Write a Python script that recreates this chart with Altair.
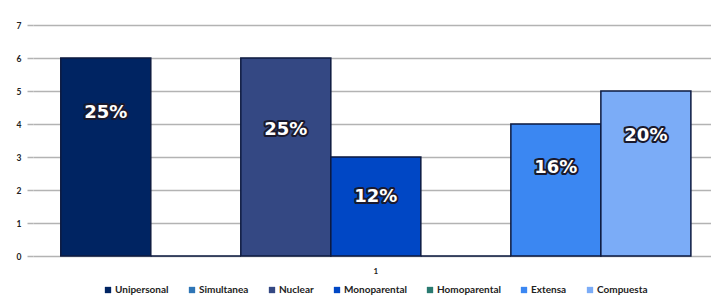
import altair as alt
import pandas as pd

series = ["Unipersonal", "Simultanea", "Nuclear", "Monoparental", "Homoparental", "Extensa", "Compuesta"]
values = [6, 0, 6, 3, 0, 4, 5]
labels = ["25%", "", "25%", "12%", "", "16%", "20%"]
label_pos = [4.33, 0, 3.82, 1.79, 0, 2.67, 3.64]
group = ["1"] * 7
y_ticks = [0, 1, 2, 3, 4, 5, 6, 7]
colors = ["#002462", "#2e75b6", "#344883", "#0047c5", "#2a7a70", "#3b87f2", "#7bacf7"]

df = pd.DataFrame({"serie": series, "grupo": group, "valor": values,
                   "label": labels, "label_pos": label_pos})

xscale = alt.Scale(paddingInner=0, paddingOuter=0.038, align=0.58)
xaxis = alt.Axis(title=None, labelAngle=0, ticks=False, domain=False,
                 labelPadding=11, labelFontSize=8, labelFontWeight="bold",
                 labelColor="#222", labelFont="Lato")
yscale = alt.Scale(domain=[0, 7], nice=False)
yaxis = alt.Axis(title=None, values=y_ticks, domain=False,
                 tickColor="#b3b3b3", tickSize=6, tickWidth=1.5,
                 gridColor="#b3b3b3", gridWidth=1.5,
                 labelFontSize=8.5, labelFontWeight="bold", labelColor="#222",
                 labelFont="Lato", labelPadding=6)
xoff = alt.XOffset("serie:N", sort=series,
                   scale=alt.Scale(domain=series, paddingInner=0, paddingOuter=0))

base = alt.Chart(df)

bars = base.mark_bar(stroke="#0d1a40", strokeWidth=1.5).encode(
    x=alt.X("grupo:N", scale=xscale, axis=xaxis),
    xOffset=xoff,
    y=alt.Y("valor:Q", scale=yscale, axis=yaxis),
    color=alt.Color("serie:N", sort=series,
                    scale=alt.Scale(domain=series, range=colors),
                    legend=alt.Legend(title=None, orient="none", direction="horizontal",
                                      legendX=70, legendY=260, symbolType="square",
                                      symbolSize=40, symbolStrokeWidth=0,
                                      labelFontSize=10, labelFontWeight="bold",
                                      labelFont="Lato", labelColor="#222",
                                      columnPadding=18, labelOffset=2)),
)

txt_base = base.transform_filter("datum.label != ''")
tx = alt.X("grupo:N", scale=xscale, axis=xaxis)
ty = alt.Y("label_pos:Q", scale=yscale, axis=yaxis)
outline = txt_base.mark_text(font="DejaVu Sans", fontWeight="bold", fontSize=18,
                             color="#1a1a2e", stroke="#1a1a2e", strokeWidth=4,
                             strokeJoin="round").encode(
    x=tx, xOffset=xoff, y=ty, text="label:N")
white = txt_base.mark_text(font="DejaVu Sans", fontWeight="bold", fontSize=18,
                           color="white").encode(
    x=tx, xOffset=xoff, y=ty, text="label:N")

chart = alt.layer(bars, outline, white).properties(
    width=678, height=231,
    padding={"left": 25, "top": 17, "right": 0, "bottom": 39},
    autosize=alt.AutoSizeParams(type="none"),
    background="white",
).configure_view(stroke=None)

chart.save("out.html", embed_options={"renderer": "svg", "actions": False})
